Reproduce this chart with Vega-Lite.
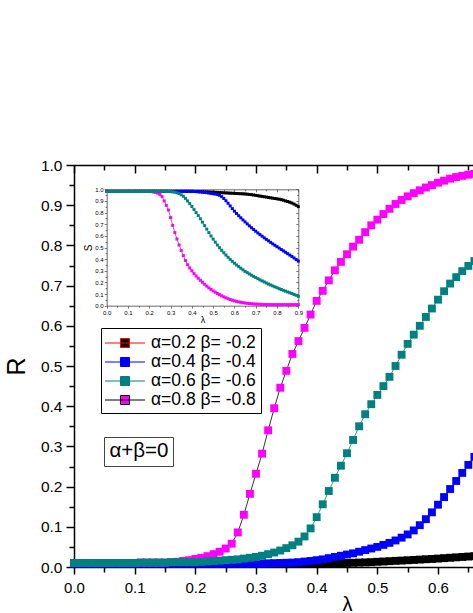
{
"$schema": "https://vega.github.io/schema/vega-lite/v6.json",
"width": 399, "height": 402,
"autosize": {"type": "none"},
"padding": {"left": 74, "top": 165, "right": 0, "bottom": 46},
"background": "white",
"config": {
 "view": {"stroke": null},
 "axis": {"grid": false, "domainColor": "black", "tickColor": "black", "labelColor": "black", "titleColor": "black", "labelFont": "Liberation Sans", "titleFont": "Liberation Sans", "titleFontWeight": "normal", "labelOverlap": false, "labelFlush": false, "labelBound": false}
},
"datasets": {
 "main": [
{"s":"a","x":0,"y":0.008},{"s":"a","x":0.01,"y":0.008},{"s":"a","x":0.02,"y":0.008},{"s":"a","x":0.03,"y":0.008},{"s":"a","x":0.04,"y":0.008},{"s":"a","x":0.05,"y":0.008},{"s":"a","x":0.06,"y":0.008},{"s":"a","x":0.07,"y":0.008},{"s":"a","x":0.08,"y":0.008},{"s":"a","x":0.09,"y":0.008},{"s":"a","x":0.1,"y":0.008},{"s":"a","x":0.11,"y":0.008},{"s":"a","x":0.12,"y":0.008},{"s":"a","x":0.13,"y":0.008},{"s":"a","x":0.14,"y":0.008},{"s":"a","x":0.15,"y":0.008},{"s":"a","x":0.16,"y":0.008},{"s":"a","x":0.17,"y":0.008},{"s":"a","x":0.18,"y":0.008},{"s":"a","x":0.19,"y":0.008},{"s":"a","x":0.2,"y":0.008},{"s":"a","x":0.21,"y":0.008},{"s":"a","x":0.22,"y":0.008},{"s":"a","x":0.23,"y":0.008},{"s":"a","x":0.24,"y":0.008},{"s":"a","x":0.25,"y":0.008},{"s":"a","x":0.26,"y":0.008},{"s":"a","x":0.27,"y":0.008},{"s":"a","x":0.28,"y":0.008},{"s":"a","x":0.29,"y":0.008},{"s":"a","x":0.3,"y":0.008},{"s":"a","x":0.31,"y":0.008},{"s":"a","x":0.32,"y":0.008},{"s":"a","x":0.33,"y":0.008},{"s":"a","x":0.34,"y":0.008},{"s":"a","x":0.35,"y":0.008},{"s":"a","x":0.36,"y":0.008},{"s":"a","x":0.37,"y":0.008},{"s":"a","x":0.38,"y":0.008},{"s":"a","x":0.39,"y":0.008},{"s":"a","x":0.4,"y":0.008},
{"s":"a","x":0.41,"y":0.0085},{"s":"a","x":0.42,"y":0.009},{"s":"a","x":0.43,"y":0.0093},{"s":"a","x":0.44,"y":0.0097},{"s":"a","x":0.45,"y":0.01},{"s":"a","x":0.46,"y":0.0105},{"s":"a","x":0.47,"y":0.011},{"s":"a","x":0.48,"y":0.0115},{"s":"a","x":0.49,"y":0.012},{"s":"a","x":0.5,"y":0.013},{"s":"a","x":0.51,"y":0.0137},{"s":"a","x":0.52,"y":0.0145},{"s":"a","x":0.53,"y":0.0153},{"s":"a","x":0.54,"y":0.016},{"s":"a","x":0.55,"y":0.0168},{"s":"a","x":0.56,"y":0.0176},{"s":"a","x":0.57,"y":0.0185},{"s":"a","x":0.58,"y":0.0193},{"s":"a","x":0.59,"y":0.02},{"s":"a","x":0.6,"y":0.021},{"s":"a","x":0.61,"y":0.022},{"s":"a","x":0.62,"y":0.023},{"s":"a","x":0.63,"y":0.024},{"s":"a","x":0.64,"y":0.025},{"s":"a","x":0.65,"y":0.026},{"s":"a","x":0.66,"y":0.027},
{"s":"b","x":0,"y":0.008},{"s":"b","x":0.01,"y":0.008},{"s":"b","x":0.02,"y":0.008},{"s":"b","x":0.03,"y":0.008},{"s":"b","x":0.04,"y":0.008},{"s":"b","x":0.05,"y":0.008},{"s":"b","x":0.06,"y":0.008},{"s":"b","x":0.07,"y":0.008},{"s":"b","x":0.08,"y":0.008},{"s":"b","x":0.09,"y":0.008},{"s":"b","x":0.1,"y":0.008},{"s":"b","x":0.11,"y":0.008},{"s":"b","x":0.12,"y":0.008},{"s":"b","x":0.13,"y":0.008},{"s":"b","x":0.14,"y":0.008},{"s":"b","x":0.15,"y":0.008},{"s":"b","x":0.16,"y":0.008},{"s":"b","x":0.17,"y":0.008},{"s":"b","x":0.18,"y":0.008},{"s":"b","x":0.19,"y":0.008},{"s":"b","x":0.2,"y":0.008},{"s":"b","x":0.21,"y":0.008},{"s":"b","x":0.22,"y":0.008},{"s":"b","x":0.23,"y":0.008},{"s":"b","x":0.24,"y":0.008},{"s":"b","x":0.25,"y":0.008},{"s":"b","x":0.26,"y":0.008},{"s":"b","x":0.27,"y":0.008},{"s":"b","x":0.28,"y":0.008},{"s":"b","x":0.29,"y":0.008},{"s":"b","x":0.3,"y":0.008},
{"s":"b","x":0.31,"y":0.0085},{"s":"b","x":0.32,"y":0.009},{"s":"b","x":0.33,"y":0.0095},{"s":"b","x":0.34,"y":0.01},{"s":"b","x":0.35,"y":0.0105},{"s":"b","x":0.36,"y":0.011},{"s":"b","x":0.37,"y":0.012},{"s":"b","x":0.38,"y":0.0135},{"s":"b","x":0.39,"y":0.015},{"s":"b","x":0.4,"y":0.017},{"s":"b","x":0.41,"y":0.019},{"s":"b","x":0.42,"y":0.022},{"s":"b","x":0.43,"y":0.025},{"s":"b","x":0.44,"y":0.028},{"s":"b","x":0.45,"y":0.031},{"s":"b","x":0.46,"y":0.034},{"s":"b","x":0.47,"y":0.038},{"s":"b","x":0.48,"y":0.042},{"s":"b","x":0.49,"y":0.046},{"s":"b","x":0.5,"y":0.05},{"s":"b","x":0.51,"y":0.055},{"s":"b","x":0.52,"y":0.06},{"s":"b","x":0.53,"y":0.066},{"s":"b","x":0.54,"y":0.073},{"s":"b","x":0.55,"y":0.081},{"s":"b","x":0.56,"y":0.091},{"s":"b","x":0.57,"y":0.104},{"s":"b","x":0.58,"y":0.119},{"s":"b","x":0.59,"y":0.136},{"s":"b","x":0.6,"y":0.155},{"s":"b","x":0.61,"y":0.174},{"s":"b","x":0.62,"y":0.194},{"s":"b","x":0.63,"y":0.214},{"s":"b","x":0.64,"y":0.234},{"s":"b","x":0.65,"y":0.254},{"s":"b","x":0.66,"y":0.274},
{"s":"d","x":0,"y":0.01},{"s":"d","x":0.01,"y":0.01},{"s":"d","x":0.02,"y":0.01},{"s":"d","x":0.03,"y":0.01},{"s":"d","x":0.04,"y":0.01},{"s":"d","x":0.05,"y":0.01},{"s":"d","x":0.06,"y":0.01},{"s":"d","x":0.07,"y":0.01},{"s":"d","x":0.08,"y":0.01},{"s":"d","x":0.09,"y":0.01},{"s":"d","x":0.1,"y":0.01},{"s":"d","x":0.11,"y":0.011},{"s":"d","x":0.12,"y":0.011},{"s":"d","x":0.13,"y":0.011},{"s":"d","x":0.14,"y":0.011},{"s":"d","x":0.15,"y":0.011},{"s":"d","x":0.16,"y":0.012},{"s":"d","x":0.17,"y":0.013},{"s":"d","x":0.18,"y":0.015},{"s":"d","x":0.19,"y":0.017},{"s":"d","x":0.2,"y":0.02},{"s":"d","x":0.21,"y":0.023},{"s":"d","x":0.22,"y":0.027},{"s":"d","x":0.23,"y":0.032},{"s":"d","x":0.24,"y":0.038},{"s":"d","x":0.25,"y":0.046},{"s":"d","x":0.26,"y":0.058},{"s":"d","x":0.27,"y":0.086},{"s":"d","x":0.28,"y":0.13},{"s":"d","x":0.29,"y":0.182},{"s":"d","x":0.3,"y":0.232},{"s":"d","x":0.31,"y":0.282},{"s":"d","x":0.32,"y":0.34},{"s":"d","x":0.33,"y":0.395},{"s":"d","x":0.34,"y":0.446},{"s":"d","x":0.35,"y":0.488},{"s":"d","x":0.36,"y":0.53},{"s":"d","x":0.37,"y":0.562},{"s":"d","x":0.38,"y":0.595},{"s":"d","x":0.39,"y":0.628},{"s":"d","x":0.4,"y":0.662},{"s":"d","x":0.41,"y":0.687},{"s":"d","x":0.42,"y":0.713},{"s":"d","x":0.43,"y":0.738},{"s":"d","x":0.44,"y":0.759},{"s":"d","x":0.45,"y":0.778},{"s":"d","x":0.46,"y":0.797},{"s":"d","x":0.47,"y":0.814},{"s":"d","x":0.48,"y":0.833},{"s":"d","x":0.49,"y":0.85},{"s":"d","x":0.5,"y":0.864},{"s":"d","x":0.51,"y":0.878},{"s":"d","x":0.52,"y":0.891},{"s":"d","x":0.53,"y":0.903},{"s":"d","x":0.54,"y":0.913},{"s":"d","x":0.55,"y":0.922},{"s":"d","x":0.56,"y":0.93},{"s":"d","x":0.57,"y":0.937},{"s":"d","x":0.58,"y":0.944},{"s":"d","x":0.59,"y":0.95},{"s":"d","x":0.6,"y":0.956},{"s":"d","x":0.61,"y":0.961},{"s":"d","x":0.62,"y":0.966},{"s":"d","x":0.63,"y":0.97},{"s":"d","x":0.64,"y":0.973},{"s":"d","x":0.65,"y":0.976},{"s":"d","x":0.66,"y":0.978},
{"s":"c","x":0,"y":0.01},{"s":"c","x":0.01,"y":0.01},{"s":"c","x":0.02,"y":0.01},{"s":"c","x":0.03,"y":0.01},{"s":"c","x":0.04,"y":0.01},{"s":"c","x":0.05,"y":0.01},{"s":"c","x":0.06,"y":0.01},{"s":"c","x":0.07,"y":0.01},{"s":"c","x":0.08,"y":0.01},{"s":"c","x":0.09,"y":0.01},{"s":"c","x":0.1,"y":0.01},{"s":"c","x":0.11,"y":0.011},{"s":"c","x":0.12,"y":0.011},{"s":"c","x":0.13,"y":0.011},{"s":"c","x":0.14,"y":0.011},{"s":"c","x":0.15,"y":0.011},{"s":"c","x":0.16,"y":0.012},{"s":"c","x":0.17,"y":0.012},{"s":"c","x":0.18,"y":0.012},{"s":"c","x":0.19,"y":0.012},{"s":"c","x":0.2,"y":0.012},{"s":"c","x":0.21,"y":0.013},{"s":"c","x":0.22,"y":0.014},{"s":"c","x":0.23,"y":0.015},{"s":"c","x":0.24,"y":0.016},{"s":"c","x":0.25,"y":0.017},{"s":"c","x":0.26,"y":0.018},{"s":"c","x":0.27,"y":0.019},{"s":"c","x":0.28,"y":0.021},{"s":"c","x":0.29,"y":0.023},{"s":"c","x":0.3,"y":0.025},{"s":"c","x":0.31,"y":0.028},{"s":"c","x":0.32,"y":0.032},{"s":"c","x":0.33,"y":0.036},{"s":"c","x":0.34,"y":0.041},{"s":"c","x":0.35,"y":0.047},{"s":"c","x":0.36,"y":0.054},{"s":"c","x":0.37,"y":0.063},{"s":"c","x":0.38,"y":0.076},{"s":"c","x":0.39,"y":0.096},{"s":"c","x":0.4,"y":0.124},{"s":"c","x":0.41,"y":0.156},{"s":"c","x":0.42,"y":0.189},{"s":"c","x":0.43,"y":0.222},{"s":"c","x":0.44,"y":0.252},{"s":"c","x":0.45,"y":0.283},{"s":"c","x":0.46,"y":0.316},{"s":"c","x":0.47,"y":0.35},{"s":"c","x":0.48,"y":0.38},{"s":"c","x":0.49,"y":0.405},{"s":"c","x":0.5,"y":0.428},{"s":"c","x":0.51,"y":0.45},{"s":"c","x":0.52,"y":0.473},{"s":"c","x":0.53,"y":0.5},{"s":"c","x":0.54,"y":0.528},{"s":"c","x":0.55,"y":0.555},{"s":"c","x":0.56,"y":0.578},{"s":"c","x":0.57,"y":0.6},{"s":"c","x":0.58,"y":0.622},{"s":"c","x":0.59,"y":0.643},{"s":"c","x":0.6,"y":0.665},{"s":"c","x":0.61,"y":0.686},{"s":"c","x":0.62,"y":0.705},{"s":"c","x":0.63,"y":0.721},{"s":"c","x":0.64,"y":0.736},{"s":"c","x":0.65,"y":0.749},{"s":"c","x":0.66,"y":0.761}
 ],
 "inset": [
{"s":"a","x":0,"y":0.982},{"s":"a","x":0.01,"y":0.982},{"s":"a","x":0.02,"y":0.982},{"s":"a","x":0.03,"y":0.982},{"s":"a","x":0.04,"y":0.982},{"s":"a","x":0.05,"y":0.982},{"s":"a","x":0.06,"y":0.982},{"s":"a","x":0.07,"y":0.982},{"s":"a","x":0.08,"y":0.982},{"s":"a","x":0.09,"y":0.982},{"s":"a","x":0.1,"y":0.982},{"s":"a","x":0.11,"y":0.982},{"s":"a","x":0.12,"y":0.982},{"s":"a","x":0.13,"y":0.982},{"s":"a","x":0.14,"y":0.982},{"s":"a","x":0.15,"y":0.982},{"s":"a","x":0.16,"y":0.982},{"s":"a","x":0.17,"y":0.982},{"s":"a","x":0.18,"y":0.982},{"s":"a","x":0.19,"y":0.982},{"s":"a","x":0.2,"y":0.982},{"s":"a","x":0.21,"y":0.982},{"s":"a","x":0.22,"y":0.982},{"s":"a","x":0.23,"y":0.982},{"s":"a","x":0.24,"y":0.982},{"s":"a","x":0.25,"y":0.982},{"s":"a","x":0.26,"y":0.982},{"s":"a","x":0.27,"y":0.982},{"s":"a","x":0.28,"y":0.982},{"s":"a","x":0.29,"y":0.982},{"s":"a","x":0.3,"y":0.982},{"s":"a","x":0.31,"y":0.982},{"s":"a","x":0.32,"y":0.982},{"s":"a","x":0.33,"y":0.982},{"s":"a","x":0.34,"y":0.982},{"s":"a","x":0.35,"y":0.982},{"s":"a","x":0.36,"y":0.982},{"s":"a","x":0.37,"y":0.982},{"s":"a","x":0.38,"y":0.982},{"s":"a","x":0.39,"y":0.982},{"s":"a","x":0.4,"y":0.982},{"s":"a","x":0.41,"y":0.981},{"s":"a","x":0.42,"y":0.981},{"s":"a","x":0.43,"y":0.98},{"s":"a","x":0.44,"y":0.98},{"s":"a","x":0.45,"y":0.979},{"s":"a","x":0.46,"y":0.978},{"s":"a","x":0.47,"y":0.978},{"s":"a","x":0.48,"y":0.977},{"s":"a","x":0.49,"y":0.976},{"s":"a","x":0.5,"y":0.975},{"s":"a","x":0.51,"y":0.974},{"s":"a","x":0.52,"y":0.973},{"s":"a","x":0.53,"y":0.972},{"s":"a","x":0.54,"y":0.971},{"s":"a","x":0.55,"y":0.97},{"s":"a","x":0.56,"y":0.969},{"s":"a","x":0.57,"y":0.968},{"s":"a","x":0.58,"y":0.967},{"s":"a","x":0.59,"y":0.966},{"s":"a","x":0.6,"y":0.965},{"s":"a","x":0.61,"y":0.964},{"s":"a","x":0.62,"y":0.963},{"s":"a","x":0.63,"y":0.962},{"s":"a","x":0.64,"y":0.961},{"s":"a","x":0.65,"y":0.96},{"s":"a","x":0.66,"y":0.958},{"s":"a","x":0.67,"y":0.956},{"s":"a","x":0.68,"y":0.954},{"s":"a","x":0.69,"y":0.951},{"s":"a","x":0.7,"y":0.948},{"s":"a","x":0.71,"y":0.945},{"s":"a","x":0.72,"y":0.942},{"s":"a","x":0.73,"y":0.939},{"s":"a","x":0.74,"y":0.936},{"s":"a","x":0.75,"y":0.933},{"s":"a","x":0.76,"y":0.93},{"s":"a","x":0.77,"y":0.927},{"s":"a","x":0.78,"y":0.924},{"s":"a","x":0.79,"y":0.921},{"s":"a","x":0.8,"y":0.918},{"s":"a","x":0.81,"y":0.915},{"s":"a","x":0.82,"y":0.911},{"s":"a","x":0.83,"y":0.906},{"s":"a","x":0.84,"y":0.9},{"s":"a","x":0.85,"y":0.895},{"s":"a","x":0.86,"y":0.889},{"s":"a","x":0.87,"y":0.882},{"s":"a","x":0.88,"y":0.873},{"s":"a","x":0.89,"y":0.863},{"s":"a","x":0.9,"y":0.851},
{"s":"b","x":0,"y":0.982},{"s":"b","x":0.01,"y":0.982},{"s":"b","x":0.02,"y":0.982},{"s":"b","x":0.03,"y":0.982},{"s":"b","x":0.04,"y":0.982},{"s":"b","x":0.05,"y":0.982},{"s":"b","x":0.06,"y":0.982},{"s":"b","x":0.07,"y":0.982},{"s":"b","x":0.08,"y":0.982},{"s":"b","x":0.09,"y":0.982},{"s":"b","x":0.1,"y":0.982},{"s":"b","x":0.11,"y":0.982},{"s":"b","x":0.12,"y":0.982},{"s":"b","x":0.13,"y":0.982},{"s":"b","x":0.14,"y":0.982},{"s":"b","x":0.15,"y":0.982},{"s":"b","x":0.16,"y":0.982},{"s":"b","x":0.17,"y":0.982},{"s":"b","x":0.18,"y":0.982},{"s":"b","x":0.19,"y":0.982},{"s":"b","x":0.2,"y":0.982},{"s":"b","x":0.21,"y":0.982},{"s":"b","x":0.22,"y":0.982},{"s":"b","x":0.23,"y":0.982},{"s":"b","x":0.24,"y":0.982},{"s":"b","x":0.25,"y":0.982},{"s":"b","x":0.26,"y":0.982},{"s":"b","x":0.27,"y":0.982},{"s":"b","x":0.28,"y":0.982},{"s":"b","x":0.29,"y":0.982},{"s":"b","x":0.3,"y":0.982},{"s":"b","x":0.31,"y":0.982},{"s":"b","x":0.32,"y":0.982},{"s":"b","x":0.33,"y":0.982},{"s":"b","x":0.34,"y":0.982},{"s":"b","x":0.35,"y":0.982},{"s":"b","x":0.36,"y":0.982},{"s":"b","x":0.37,"y":0.982},{"s":"b","x":0.38,"y":0.982},{"s":"b","x":0.39,"y":0.982},{"s":"b","x":0.4,"y":0.982},{"s":"b","x":0.41,"y":0.981},{"s":"b","x":0.42,"y":0.98},{"s":"b","x":0.43,"y":0.979},{"s":"b","x":0.44,"y":0.977},{"s":"b","x":0.45,"y":0.975},{"s":"b","x":0.46,"y":0.973},{"s":"b","x":0.47,"y":0.971},{"s":"b","x":0.48,"y":0.968},{"s":"b","x":0.49,"y":0.965},{"s":"b","x":0.5,"y":0.962},{"s":"b","x":0.51,"y":0.959},{"s":"b","x":0.52,"y":0.955},{"s":"b","x":0.53,"y":0.948},{"s":"b","x":0.54,"y":0.937},{"s":"b","x":0.55,"y":0.921},{"s":"b","x":0.56,"y":0.902},{"s":"b","x":0.57,"y":0.88},{"s":"b","x":0.58,"y":0.857},{"s":"b","x":0.59,"y":0.834},{"s":"b","x":0.6,"y":0.812},{"s":"b","x":0.61,"y":0.792},{"s":"b","x":0.62,"y":0.773},{"s":"b","x":0.63,"y":0.755},{"s":"b","x":0.64,"y":0.737},{"s":"b","x":0.65,"y":0.72},{"s":"b","x":0.66,"y":0.703},{"s":"b","x":0.67,"y":0.686},{"s":"b","x":0.68,"y":0.67},{"s":"b","x":0.69,"y":0.655},{"s":"b","x":0.7,"y":0.64},{"s":"b","x":0.71,"y":0.625},{"s":"b","x":0.72,"y":0.611},{"s":"b","x":0.73,"y":0.597},{"s":"b","x":0.74,"y":0.583},{"s":"b","x":0.75,"y":0.57},{"s":"b","x":0.76,"y":0.557},{"s":"b","x":0.77,"y":0.544},{"s":"b","x":0.78,"y":0.531},{"s":"b","x":0.79,"y":0.519},{"s":"b","x":0.8,"y":0.507},{"s":"b","x":0.81,"y":0.495},{"s":"b","x":0.82,"y":0.483},{"s":"b","x":0.83,"y":0.471},{"s":"b","x":0.84,"y":0.459},{"s":"b","x":0.85,"y":0.447},{"s":"b","x":0.86,"y":0.435},{"s":"b","x":0.87,"y":0.423},{"s":"b","x":0.88,"y":0.41},{"s":"b","x":0.89,"y":0.397},{"s":"b","x":0.9,"y":0.383},
{"s":"d","x":0,"y":0.982},{"s":"d","x":0.01,"y":0.982},{"s":"d","x":0.02,"y":0.982},{"s":"d","x":0.03,"y":0.982},{"s":"d","x":0.04,"y":0.982},{"s":"d","x":0.05,"y":0.982},{"s":"d","x":0.06,"y":0.982},{"s":"d","x":0.07,"y":0.982},{"s":"d","x":0.08,"y":0.982},{"s":"d","x":0.09,"y":0.982},{"s":"d","x":0.1,"y":0.982},{"s":"d","x":0.11,"y":0.982},{"s":"d","x":0.12,"y":0.982},{"s":"d","x":0.13,"y":0.982},{"s":"d","x":0.14,"y":0.982},{"s":"d","x":0.15,"y":0.982},{"s":"d","x":0.16,"y":0.982},{"s":"d","x":0.17,"y":0.982},{"s":"d","x":0.18,"y":0.982},{"s":"d","x":0.19,"y":0.982},{"s":"d","x":0.2,"y":0.982},{"s":"d","x":0.21,"y":0.98},{"s":"d","x":0.22,"y":0.977},{"s":"d","x":0.23,"y":0.973},{"s":"d","x":0.24,"y":0.967},{"s":"d","x":0.25,"y":0.955},{"s":"d","x":0.26,"y":0.937},{"s":"d","x":0.27,"y":0.9},{"s":"d","x":0.28,"y":0.862},{"s":"d","x":0.29,"y":0.822},{"s":"d","x":0.3,"y":0.757},{"s":"d","x":0.31,"y":0.69},{"s":"d","x":0.32,"y":0.628},{"s":"d","x":0.33,"y":0.573},{"s":"d","x":0.34,"y":0.522},{"s":"d","x":0.35,"y":0.474},{"s":"d","x":0.36,"y":0.43},{"s":"d","x":0.37,"y":0.388},{"s":"d","x":0.38,"y":0.352},{"s":"d","x":0.39,"y":0.324},{"s":"d","x":0.4,"y":0.3},{"s":"d","x":0.41,"y":0.276},{"s":"d","x":0.42,"y":0.255},{"s":"d","x":0.43,"y":0.236},{"s":"d","x":0.44,"y":0.218},{"s":"d","x":0.45,"y":0.201},{"s":"d","x":0.46,"y":0.184},{"s":"d","x":0.47,"y":0.168},{"s":"d","x":0.48,"y":0.153},{"s":"d","x":0.49,"y":0.14},{"s":"d","x":0.5,"y":0.127},{"s":"d","x":0.51,"y":0.116},{"s":"d","x":0.52,"y":0.105},{"s":"d","x":0.53,"y":0.095},{"s":"d","x":0.54,"y":0.085},{"s":"d","x":0.55,"y":0.076},{"s":"d","x":0.56,"y":0.068},{"s":"d","x":0.57,"y":0.06},{"s":"d","x":0.58,"y":0.053},{"s":"d","x":0.59,"y":0.047},{"s":"d","x":0.6,"y":0.042},{"s":"d","x":0.61,"y":0.037},{"s":"d","x":0.62,"y":0.033},{"s":"d","x":0.63,"y":0.029},{"s":"d","x":0.64,"y":0.026},{"s":"d","x":0.65,"y":0.023},{"s":"d","x":0.66,"y":0.021},{"s":"d","x":0.67,"y":0.019},{"s":"d","x":0.68,"y":0.017},{"s":"d","x":0.69,"y":0.015},{"s":"d","x":0.7,"y":0.014},{"s":"d","x":0.71,"y":0.013},{"s":"d","x":0.72,"y":0.012},{"s":"d","x":0.73,"y":0.011},{"s":"d","x":0.74,"y":0.01},{"s":"d","x":0.75,"y":0.01},{"s":"d","x":0.76,"y":0.009},{"s":"d","x":0.77,"y":0.009},{"s":"d","x":0.78,"y":0.009},{"s":"d","x":0.79,"y":0.009},{"s":"d","x":0.8,"y":0.009},{"s":"d","x":0.81,"y":0.009},{"s":"d","x":0.82,"y":0.009},{"s":"d","x":0.83,"y":0.009},{"s":"d","x":0.84,"y":0.009},{"s":"d","x":0.85,"y":0.009},{"s":"d","x":0.86,"y":0.009},{"s":"d","x":0.87,"y":0.009},{"s":"d","x":0.88,"y":0.009},{"s":"d","x":0.89,"y":0.009},{"s":"d","x":0.9,"y":0.009},
{"s":"c","x":0,"y":0.982},{"s":"c","x":0.01,"y":0.982},{"s":"c","x":0.02,"y":0.982},{"s":"c","x":0.03,"y":0.982},{"s":"c","x":0.04,"y":0.982},{"s":"c","x":0.05,"y":0.982},{"s":"c","x":0.06,"y":0.982},{"s":"c","x":0.07,"y":0.982},{"s":"c","x":0.08,"y":0.982},{"s":"c","x":0.09,"y":0.982},{"s":"c","x":0.1,"y":0.982},{"s":"c","x":0.11,"y":0.982},{"s":"c","x":0.12,"y":0.982},{"s":"c","x":0.13,"y":0.982},{"s":"c","x":0.14,"y":0.982},{"s":"c","x":0.15,"y":0.982},{"s":"c","x":0.16,"y":0.982},{"s":"c","x":0.17,"y":0.982},{"s":"c","x":0.18,"y":0.982},{"s":"c","x":0.19,"y":0.982},{"s":"c","x":0.2,"y":0.982},{"s":"c","x":0.21,"y":0.982},{"s":"c","x":0.22,"y":0.982},{"s":"c","x":0.23,"y":0.982},{"s":"c","x":0.24,"y":0.982},{"s":"c","x":0.25,"y":0.982},{"s":"c","x":0.26,"y":0.982},{"s":"c","x":0.27,"y":0.982},{"s":"c","x":0.28,"y":0.982},{"s":"c","x":0.29,"y":0.981},{"s":"c","x":0.3,"y":0.98},{"s":"c","x":0.31,"y":0.978},{"s":"c","x":0.32,"y":0.975},{"s":"c","x":0.33,"y":0.97},{"s":"c","x":0.34,"y":0.963},{"s":"c","x":0.35,"y":0.953},{"s":"c","x":0.36,"y":0.94},{"s":"c","x":0.37,"y":0.922},{"s":"c","x":0.38,"y":0.9},{"s":"c","x":0.39,"y":0.877},{"s":"c","x":0.4,"y":0.852},{"s":"c","x":0.41,"y":0.826},{"s":"c","x":0.42,"y":0.8},{"s":"c","x":0.43,"y":0.774},{"s":"c","x":0.44,"y":0.747},{"s":"c","x":0.45,"y":0.718},{"s":"c","x":0.46,"y":0.688},{"s":"c","x":0.47,"y":0.658},{"s":"c","x":0.48,"y":0.628},{"s":"c","x":0.49,"y":0.599},{"s":"c","x":0.5,"y":0.572},{"s":"c","x":0.51,"y":0.546},{"s":"c","x":0.52,"y":0.521},{"s":"c","x":0.53,"y":0.498},{"s":"c","x":0.54,"y":0.476},{"s":"c","x":0.55,"y":0.455},{"s":"c","x":0.56,"y":0.435},{"s":"c","x":0.57,"y":0.416},{"s":"c","x":0.58,"y":0.398},{"s":"c","x":0.59,"y":0.381},{"s":"c","x":0.6,"y":0.365},{"s":"c","x":0.61,"y":0.35},{"s":"c","x":0.62,"y":0.336},{"s":"c","x":0.63,"y":0.322},{"s":"c","x":0.64,"y":0.308},{"s":"c","x":0.65,"y":0.295},{"s":"c","x":0.66,"y":0.284},{"s":"c","x":0.67,"y":0.273},{"s":"c","x":0.68,"y":0.262},{"s":"c","x":0.69,"y":0.252},{"s":"c","x":0.7,"y":0.242},{"s":"c","x":0.71,"y":0.232},{"s":"c","x":0.72,"y":0.222},{"s":"c","x":0.73,"y":0.213},{"s":"c","x":0.74,"y":0.204},{"s":"c","x":0.75,"y":0.195},{"s":"c","x":0.76,"y":0.186},{"s":"c","x":0.77,"y":0.178},{"s":"c","x":0.78,"y":0.17},{"s":"c","x":0.79,"y":0.162},{"s":"c","x":0.8,"y":0.154},{"s":"c","x":0.81,"y":0.146},{"s":"c","x":0.82,"y":0.139},{"s":"c","x":0.83,"y":0.132},{"s":"c","x":0.84,"y":0.125},{"s":"c","x":0.85,"y":0.118},{"s":"c","x":0.86,"y":0.111},{"s":"c","x":0.87,"y":0.104},{"s":"c","x":0.88,"y":0.097},{"s":"c","x":0.89,"y":0.09},{"s":"c","x":0.9,"y":0.08}
 ],
 "note": [{"n": "α+β=0"}]
},
"layer": [
 {
  "data": {"name": "main"},
  "layer": [
   {
    "mark": {"type": "line", "strokeWidth": 0.8},
    "encoding": {
     "x": {"field": "x", "type": "quantitative", "scale": {"domain": [0, 0.9], "range": [0, 546], "nice": false, "zero": false},
      "axis": {"orient": "bottom", "values": [0,0.05,0.1,0.15,0.2,0.25,0.3,0.35,0.4,0.45,0.5,0.55,0.6,0.65],
       "labelExpr": "abs(datum.value*10-round(datum.value*10))>0.01 ? '' : format(datum.value, '.1f')",
       "tickSize": {"condition": {"test": "abs(datum.value*10-round(datum.value*10))>0.01", "value": 5}, "value": 7},
       "tickWidth": 1.5, "domainWidth": 1.5, "labelFontSize": 15, "labelPadding": 6,
       "title": "λ", "titleFontSize": 20, "titlePadding": -1}},
     "y": {"field": "y", "type": "quantitative", "scale": {"domain": [0, 1], "nice": false},
      "axis": {"orient": "left", "values": [0,0.05,0.1,0.15,0.2,0.25,0.3,0.35,0.4,0.45,0.5,0.55,0.6,0.65,0.7,0.75,0.8,0.85,0.9,0.95,1],
       "labelExpr": "abs(datum.value*10-round(datum.value*10))>0.01 ? '' : format(datum.value, '.1f')",
       "tickSize": {"condition": {"test": "abs(datum.value*10-round(datum.value*10))>0.01", "value": 5}, "value": 8},
       "tickWidth": 1.5, "domainWidth": 1.5, "labelFontSize": 15.5, "labelPadding": 4,
       "title": "R", "titleFontSize": 25, "titlePadding": 11}},
     "stroke": {"field": "s", "type": "nominal",
      "scale": {"domain": ["a","b","c","d"], "range": ["#ff0000","#0000ff","#008080","#000000"]},
      "legend": {"orient": "none", "legendX": 27, "legendY": 163, "title": null, "strokeColor": "black", "fillColor": "white", "padding": 4.5, "cornerRadius": 0,
       "symbolType": "M-2,0H2M-0.45,-0.45H0.45V0.45H-0.45Z", "symbolSize": 400, "symbolStrokeWidth": 1, "symbolOffset": 9, "labelOffset": 15.5,
       "labelFontSize": 17.5, "labelFont": "Liberation Sans", "labelColor": "black", "rowPadding": 0,
       "labelExpr": "datum.label=='a'?'α=0.2 β= -0.2':datum.label=='b'?'α=0.4 β= -0.4':datum.label=='c'?'α=0.6 β= -0.6':'α=0.8 β= -0.8'"}}
    }
   },
   {
    "mark": {"type": "point", "shape": "square", "filled": true, "size": 62, "opacity": 1},
    "encoding": {
     "x": {"field": "x", "type": "quantitative", "scale": {"domain": [0, 0.9], "range": [0, 546], "nice": false, "zero": false},
      "axis": {"orient": "top", "values": [0,0.05,0.1,0.15,0.2,0.25,0.3,0.35,0.4,0.45,0.5,0.55,0.6,0.65],
       "labels": false, "title": null,
       "tickSize": {"condition": {"test": "abs(datum.value*10-round(datum.value*10))>0.01", "value": -5}, "value": -8},
       "tickWidth": 1.5, "domainWidth": 1.5}},
     "y": {"field": "y", "type": "quantitative", "scale": {"domain": [0, 1], "nice": false}, "axis": null},
     "fill": {"field": "s", "type": "nominal",
      "scale": {"domain": ["a","b","c","d"], "range": ["#000000","#0000ff","#008080","#ff00ff"]},
      "legend": {"orient": "none", "legendX": 27, "legendY": 163, "title": null, "strokeColor": "black", "fillColor": "white", "padding": 4.5, "cornerRadius": 0,
       "symbolType": "M-2,0H2M-0.45,-0.45H0.45V0.45H-0.45Z", "symbolSize": 400, "symbolStrokeWidth": 1, "symbolOffset": 9, "labelOffset": 15.5,
       "labelFontSize": 17.5, "labelFont": "Liberation Sans", "labelColor": "black", "rowPadding": 0,
       "labelExpr": "datum.label=='a'?'α=0.2 β= -0.2':datum.label=='b'?'α=0.4 β= -0.4':datum.label=='c'?'α=0.6 β= -0.6':'α=0.8 β= -0.8'"}}
    }
   }
  ],
  "resolve": {"axis": {"x": "independent", "y": "independent"}}
 },
 {
  "data": {"name": "inset"},
  "layer": [
   {
    "mark": {"type": "line", "strokeWidth": 0.5},
    "encoding": {
     "x": {"field": "x", "type": "quantitative", "scale": {"domain": [0, 0.9], "range": [32.7, 224.3], "nice": false, "zero": false},
      "axis": {"orient": "bottom", "offset": -261.3, "values": [0,0.05,0.1,0.15,0.2,0.25,0.3,0.35,0.4,0.45,0.5,0.55,0.6,0.65,0.7,0.75,0.8,0.85,0.9],
       "labelExpr": "abs(datum.value*10-round(datum.value*10))>0.01 ? '' : format(datum.value, '.1f')",
       "tickSize": {"condition": {"test": "abs(datum.value*10-round(datum.value*10))>0.01", "value": 1.5}, "value": 2.5},
       "tickWidth": 0.7, "domainWidth": 0.8, "domainColor": "#444", "tickColor": "#444", "labelFontSize": 6, "labelPadding": 1,
       "title": "λ", "titleFontSize": 9, "titlePadding": 0}},
     "y": {"field": "y", "type": "quantitative", "scale": {"domain": [0, 1], "range": [140.7, 24.3], "nice": false},
      "axis": {"orient": "left", "offset": -32.7, "values": [0,0.05,0.1,0.15,0.2,0.25,0.3,0.35,0.4,0.45,0.5,0.55,0.6,0.65,0.7,0.75,0.8,0.85,0.9,0.95,1],
       "labelExpr": "abs(datum.value*10-round(datum.value*10))>0.01 ? '' : format(datum.value, '.1f')",
       "tickSize": {"condition": {"test": "abs(datum.value*10-round(datum.value*10))>0.01", "value": 1.5}, "value": 2.5},
       "tickWidth": 0.7, "domainWidth": 0.8, "domainColor": "#444", "tickColor": "#444", "labelFontSize": 6, "labelPadding": 1,
       "title": "S", "titleFontSize": 10, "titlePadding": 1}},
     "stroke": {"field": "s", "type": "nominal",
      "scale": {"domain": ["a","b","c","d"], "range": ["#ff0000","#0000ff","#008080","#000000"]},
      "legend": {"orient": "none", "legendX": 27, "legendY": 163, "title": null, "strokeColor": "black", "fillColor": "white", "padding": 4.5, "cornerRadius": 0,
       "symbolType": "M-2,0H2M-0.45,-0.45H0.45V0.45H-0.45Z", "symbolSize": 400, "symbolStrokeWidth": 1, "symbolOffset": 9, "labelOffset": 15.5,
       "labelFontSize": 17.5, "labelFont": "Liberation Sans", "labelColor": "black", "rowPadding": 0,
       "labelExpr": "datum.label=='a'?'α=0.2 β= -0.2':datum.label=='b'?'α=0.4 β= -0.4':datum.label=='c'?'α=0.6 β= -0.6':'α=0.8 β= -0.8'"}}
    }
   },
   {
    "mark": {"type": "point", "shape": "square", "filled": true, "size": 9, "opacity": 1},
    "encoding": {
     "x": {"field": "x", "type": "quantitative", "scale": {"domain": [0, 0.9], "range": [32.7, 224.3], "nice": false, "zero": false},
      "axis": {"orient": "top", "offset": -24.3, "values": [0,0.05,0.1,0.15,0.2,0.25,0.3,0.35,0.4,0.45,0.5,0.55,0.6,0.65,0.7,0.75,0.8,0.85,0.9],
       "labels": false, "title": null,
       "tickSize": {"condition": {"test": "abs(datum.value*10-round(datum.value*10))>0.01", "value": -1.5}, "value": -2.5},
       "tickWidth": 0.7, "domainWidth": 0.8, "domainColor": "#444", "tickColor": "#444"}},
     "y": {"field": "y", "type": "quantitative", "scale": {"domain": [0, 1], "range": [140.7, 24.3], "nice": false},
      "axis": {"orient": "right", "offset": -174.7, "values": [0,0.05,0.1,0.15,0.2,0.25,0.3,0.35,0.4,0.45,0.5,0.55,0.6,0.65,0.7,0.75,0.8,0.85,0.9,0.95,1],
       "labels": false, "title": null,
       "tickSize": {"condition": {"test": "abs(datum.value*10-round(datum.value*10))>0.01", "value": -1.5}, "value": -2.5},
       "tickWidth": 0.7, "domainWidth": 0.8, "domainColor": "#444", "tickColor": "#444"}},
     "fill": {"field": "s", "type": "nominal",
      "scale": {"domain": ["a","b","c","d"], "range": ["#000000","#0000ff","#008080","#ff00ff"]},
      "legend": {"orient": "none", "legendX": 27, "legendY": 163, "title": null, "strokeColor": "black", "fillColor": "white", "padding": 4.5, "cornerRadius": 0,
       "symbolType": "M-2,0H2M-0.45,-0.45H0.45V0.45H-0.45Z", "symbolSize": 400, "symbolStrokeWidth": 1, "symbolOffset": 9, "labelOffset": 15.5,
       "labelFontSize": 17.5, "labelFont": "Liberation Sans", "labelColor": "black", "rowPadding": 0,
       "labelExpr": "datum.label=='a'?'α=0.2 β= -0.2':datum.label=='b'?'α=0.4 β= -0.4':datum.label=='c'?'α=0.6 β= -0.6':'α=0.8 β= -0.8'"}}
    }
   }
  ],
  "resolve": {"axis": {"x": "independent", "y": "independent"}}
 },
 {
  "data": {"name": "note"},
  "mark": {"type": "point", "opacity": 0},
  "encoding": {
   "shape": {"field": "n", "type": "nominal",
    "legend": {"orient": "none", "legendX": 30, "legendY": 272, "title": null, "strokeColor": "#444", "fillColor": "white", "padding": 4, "cornerRadius": 0,
     "symbolSize": 0, "symbolOpacity": 0, "symbolOffset": 0, "labelOffset": -19, "labelFontSize": 20.5, "labelFont": "Liberation Sans", "labelColor": "black"}}
  }
 }
],
"resolve": {"scale": {"x": "independent", "y": "independent"}}
}
